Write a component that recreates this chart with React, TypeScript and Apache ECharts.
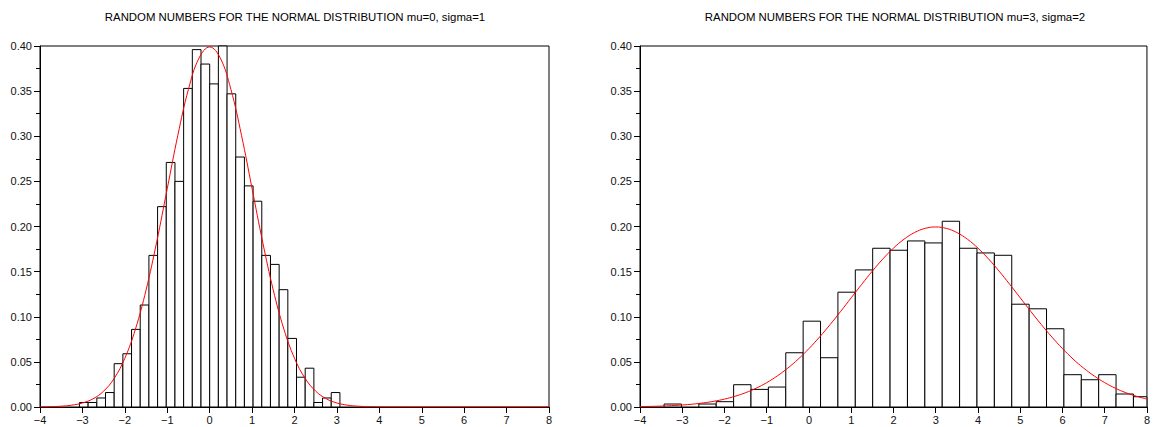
import React, { useEffect, useRef } from "react";
import * as echarts from "echarts";

// ---------- data ----------
const TITLE_LEFT = "RANDOM NUMBERS FOR THE NORMAL DISTRIBUTION mu=0, sigma=1";
const TITLE_RIGHT = "RANDOM NUMBERS FOR THE NORMAL DISTRIBUTION mu=3, sigma=2";

const LEFT_BIN_START = -3.07;
const LEFT_BIN_WIDTH = 0.2047;
const LEFT_HEIGHTS = [
  0.005, 0.005, 0.010, 0.016, 0.048, 0.059, 0.086, 0.113, 0.168, 0.222,
  0.271, 0.250, 0.353, 0.396, 0.380, 0.358, 0.420, 0.347, 0.277, 0.245,
  0.228, 0.168, 0.158, 0.130, 0.076, 0.033, 0.043, 0.005, 0.010, 0.016,
];

const RIGHT_BIN_START = -3.43;
const RIGHT_BIN_WIDTH = 0.4115;
const RIGHT_HEIGHTS = [
  0.0033, 0, 0.0033, 0.0059, 0.0247, 0.0195, 0.0221, 0.0601, 0.0951, 0.0546,
  0.1272, 0.1519, 0.1759, 0.1737, 0.184, 0.1818, 0.2058, 0.1759, 0.1707, 0.1681,
  0.1139, 0.1088, 0.0867, 0.0358, 0.0302, 0.0358, 0.0144, 0.0114,
];

const CURVE_X = [
  -4, -3.75, -3.5, -3.25, -3, -2.75, -2.5, -2.25, -2, -1.75, -1.5, -1.25, -1,
  -0.75, -0.5, -0.25, 0, 0.25, 0.5, 0.75, 1, 1.25, 1.5, 1.75, 2, 2.25, 2.5,
  2.75, 3, 3.25, 3.5, 3.75, 4, 4.25, 4.5, 4.75, 5, 5.25, 5.5, 5.75, 6, 6.25,
  6.5, 6.75, 7, 7.25, 7.5, 7.75, 8,
];

const LEFT_CURVE = [
  0.00013, 0.00035, 0.00087, 0.00203, 0.00443, 0.00909, 0.01753, 0.03174,
  0.05399, 0.08628, 0.12952, 0.18265, 0.24197, 0.30114, 0.35207, 0.38667,
  0.39894, 0.38667, 0.35207, 0.30114, 0.24197, 0.18265, 0.12952, 0.08628,
  0.05399, 0.03174, 0.01753, 0.00909, 0.00443, 0.00203, 0.00087, 0.00035,
  0.00013, 0.00005, 0.00002, 0, 0, 0, 0, 0, 0, 0, 0, 0, 0, 0, 0, 0, 0,
];

const RIGHT_CURVE = [
  0.00044, 0.00067, 0.00101, 0.00151, 0.00222, 0.0032, 0.00454, 0.00636,
  0.00876, 0.01191, 0.01587, 0.02084, 0.027, 0.03444, 0.04314, 0.05324,
  0.06476, 0.07752, 0.09132, 0.10593, 0.12099, 0.13602, 0.15057, 0.16407,
  0.17603, 0.18593, 0.19334, 0.19792, 0.19947, 0.19792, 0.19334, 0.18593,
  0.17603, 0.16407, 0.15057, 0.13602, 0.12099, 0.10593, 0.09132, 0.07752,
  0.06476, 0.05324, 0.04314, 0.03444, 0.027, 0.02084, 0.01587, 0.01191,
  0.00876,
];

const X_MIN = -4;
const X_MAX = 8;
const Y_MIN = 0;
const Y_MAX = 0.4;

// ---------- helpers ----------
const FONT = "Liberation Sans, Arial, Helvetica, sans-serif";

function binData(start: number, width: number, heights: number[]) {
  return heights.map((h, i) => [start + i * width, start + (i + 1) * width, h]);
}

function curveData(ys: number[]) {
  return CURVE_X.map((x, i) => [x, ys[i]]);
}

function renderBin(params: any, api: any) {
  const x0 = api.value(0);
  const x1 = api.value(1);
  const h = api.value(2);
  if (!h) return null;
  const p0 = api.coord([x0, h]);
  const p1 = api.coord([x1, 0]);
  const cs = params.coordSys;
  const shape = echarts.graphic.clipRectByRect(
    { x: p0[0], y: p0[1], width: p1[0] - p0[0], height: p1[1] - p0[1] },
    { x: cs.x, y: cs.y, width: cs.width, height: cs.height }
  );
  if (!shape) return null;
  return {
    type: "rect",
    shape,
    style: { fill: "#ffffff", stroke: "#000000", lineWidth: 1 },
  };
}

function xAxis(gridIndex: number) {
  return {
    type: "value",
    gridIndex,
    min: X_MIN,
    max: X_MAX,
    interval: 1,
    axisLine: { show: true, onZero: false, lineStyle: { color: "#000", width: 1 } },
    axisTick: { show: true, inside: false, length: 6, lineStyle: { color: "#000" } },
    splitLine: { show: false },
    axisLabel: {
      color: "#111",
      fontSize: 11,
      fontFamily: FONT,
      margin: 7,
      formatter: (v: number) => String(v).replace("-", "\u2212"),
    },
  };
}

function yAxis(gridIndex: number) {
  return {
    type: "value",
    gridIndex,
    min: Y_MIN,
    max: Y_MAX,
    interval: 0.05,
    axisLine: { show: true, onZero: false, lineStyle: { color: "#000", width: 1 } },
    axisTick: { show: true, inside: false, length: 6, lineStyle: { color: "#000" } },
    minorTick: { show: true, splitNumber: 2, length: 4, lineStyle: { color: "#000" } },
    splitLine: { show: false },
    minorSplitLine: { show: false },
    axisLabel: {
      color: "#111",
      fontSize: 11,
      fontFamily: FONT,
      margin: 8,
      formatter: (v: number) => v.toFixed(2),
    },
  };
}

export default function App() {
  const ref = useRef<HTMLDivElement>(null);

  useEffect(() => {
    if (!ref.current) return;
    const chart = echarts.init(ref.current, undefined, { renderer: "svg" });
    const titleStyle = {
      fontSize: 11.4,
      fontWeight: "normal" as const,
      color: "#000",
      fontFamily: FONT,
    };
    chart.setOption({
      animation: false,
      backgroundColor: "#ffffff",
      title: [
        { text: TITLE_LEFT, left: 295, top: 11, textAlign: "center", textStyle: titleStyle, padding: 0 },
        { text: TITLE_RIGHT, left: 895, top: 11, textAlign: "center", textStyle: titleStyle, padding: 0 },
      ],
      grid: [
        { left: 40, top: 46, width: 509, height: 361, show: true, borderColor: "#000", borderWidth: 1, backgroundColor: "transparent" },
        { left: 640, top: 46, width: 509, height: 361, show: true, borderColor: "#000", borderWidth: 1, backgroundColor: "transparent" },
      ],
      xAxis: [xAxis(0), xAxis(1)],
      yAxis: [yAxis(0), yAxis(1)],
      series: [
        {
          type: "custom",
          xAxisIndex: 0,
          yAxisIndex: 0,
          renderItem: renderBin,
          data: binData(LEFT_BIN_START, LEFT_BIN_WIDTH, LEFT_HEIGHTS),
          encode: { x: [0, 1], y: 2 },
          z: 2,
        },
        {
          type: "custom",
          xAxisIndex: 1,
          yAxisIndex: 1,
          renderItem: renderBin,
          data: binData(RIGHT_BIN_START, RIGHT_BIN_WIDTH, RIGHT_HEIGHTS),
          encode: { x: [0, 1], y: 2 },
          z: 2,
        },
        {
          type: "line",
          xAxisIndex: 0,
          yAxisIndex: 0,
          data: curveData(LEFT_CURVE),
          smooth: 0.4,
          showSymbol: false,
          symbol: "none",
          lineStyle: { color: "#ff0000", width: 1 },
          z: 3,
        },
        {
          type: "line",
          xAxisIndex: 1,
          yAxisIndex: 1,
          data: curveData(RIGHT_CURVE),
          smooth: 0.4,
          showSymbol: false,
          symbol: "none",
          lineStyle: { color: "#ff0000", width: 1 },
          z: 3,
        },
      ],
    });
    return () => chart.dispose();
  }, []);

  return (
    <div
      ref={ref}
      style={{ position: "fixed", left: 0, top: 0, width: 1153, height: 427, background: "#fff" }}
    />
  );
}
